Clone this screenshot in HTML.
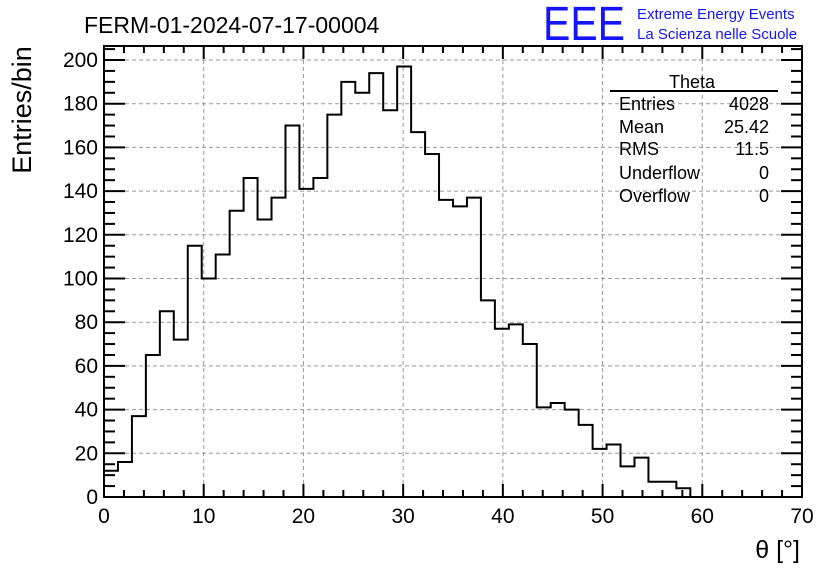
<!DOCTYPE html>
<html><head><meta charset="utf-8"><style>
body{margin:0;background:#fff}
svg{display:block;font-family:"Liberation Sans",sans-serif}
</style></head><body>
<svg id="c" width="836" height="572">
<rect width="836" height="572" fill="#fff"/>
<text x="84" y="33" font-size="23">FERM-01-2024-07-17-00004</text>
<text x="543" y="40" font-size="48" fill="#1414ff" textLength="82" lengthAdjust="spacingAndGlyphs">EEE</text>
<text x="637" y="19" font-size="15" fill="#1414ff">Extreme Energy Events</text>
<text x="637" y="39" font-size="15" fill="#1414ff">La Scienza nelle Scuole</text>
<g id="grid"></g>
<g id="ticks"></g>
<path id="hist" fill="none" stroke="#000" stroke-width="2"/>
<rect x="104" y="46" width="698" height="451" fill="none" stroke="#000" stroke-width="2"/>
<text transform="translate(31,110) rotate(-90)" font-size="27" text-anchor="middle">Entries/bin</text>
<text x="800" y="558" font-size="25" text-anchor="end">θ [°]</text>
<g font-size="18">
<text x="692" y="88" text-anchor="middle">Theta</text>
<line x1="610" y1="91" x2="778" y2="91" stroke="#000" stroke-width="2"/>
<text x="619" y="110">Entries</text><text x="769" y="110" text-anchor="end">4028</text>
<text x="619" y="133">Mean</text><text x="769" y="133" text-anchor="end">25.42</text>
<text x="619" y="155">RMS</text><text x="769" y="155" text-anchor="end">11.5</text>
<text x="619" y="179">Underflow</text><text x="769" y="179" text-anchor="end">0</text>
<text x="619" y="202">Overflow</text><text x="769" y="202" text-anchor="end">0</text>
</g>
</svg>
<script>
const binWidth = 1.4;
const counts = [12,16,37,65,85,72,115,100,111,131,146,127,137,170,141,146,175,190,185,194,177,197,167,157,136,133,137,90,77,79,70,41,43,40,33,22,24,14,18,7,7,4,0,0,0,0,0,0,0,0];
const xTicks = [0,10,20,30,40,50,60,70];
const yTicks = [0,20,40,60,80,100,120,140,160,180,200];
const NS='http://www.w3.org/2000/svg';
const X0=104,X1=802,Y0=497,Y1=60;
const xs=v=>X0+(v/70)*(X1-X0);
const ys=v=>Y0-(v/200)*(Y0-Y1);
const svg=document.getElementById('c');
const grid=document.getElementById('grid'), ticks=document.getElementById('ticks');
function mk(tag,attrs,parent){const e=document.createElementNS(NS,tag);for(const k in attrs)e.setAttribute(k,attrs[k]);parent.appendChild(e);return e;}
xTicks.forEach(v=>{
  const x=xs(v);
  if(v>0&&v<70){const g=mk('line',{x1:x,x2:x,y1:46,y2:497,stroke:'#999','stroke-dasharray':'4,3'},grid);
  
  }
  const t=mk('text',{x:x,y:523,'font-size':21,'text-anchor':'middle'},svg);t.textContent=v;
  
  
});
for(let v=0;v<=70;v+=2){const x=xs(v);const L=v%10===0?13:7;
  mk('line',{x1:x,x2:x,y1:497,y2:497-L,stroke:'#000','stroke-width':2},ticks);
  mk('line',{x1:x,x2:x,y1:46,y2:46+L,stroke:'#000','stroke-width':2},ticks);}
yTicks.forEach(v=>{
  const y=ys(v);
  if(v>0){const g=mk('line',{x1:104,x2:802,y1:y,y2:y,stroke:'#999','stroke-dasharray':'4,3'},grid);
  
  }
  const t=mk('text',{x:98,y:y+7,'font-size':21,'text-anchor':'end'},svg);t.textContent=v;
  
  
});
for(let v=0;v<=205;v+=5){const y=ys(v);if(y<46)break;const L=v%20===0?21:11;
  mk('line',{x1:104,x2:104+L,y1:y,y2:y,stroke:'#000','stroke-width':2},ticks);
  mk('line',{x1:802,x2:802-L,y1:y,y2:y,stroke:'#000','stroke-width':2},ticks);}
let d='M'+xs(0)+','+ys(counts[0]);
counts.forEach((c,i)=>{const a=xs(i*binWidth),b=xs((i+1)*binWidth);d+=' L'+a+','+ys(c)+' L'+b+','+ys(c);});
document.getElementById('hist').setAttribute('d',d);
</script>
</body></html>
